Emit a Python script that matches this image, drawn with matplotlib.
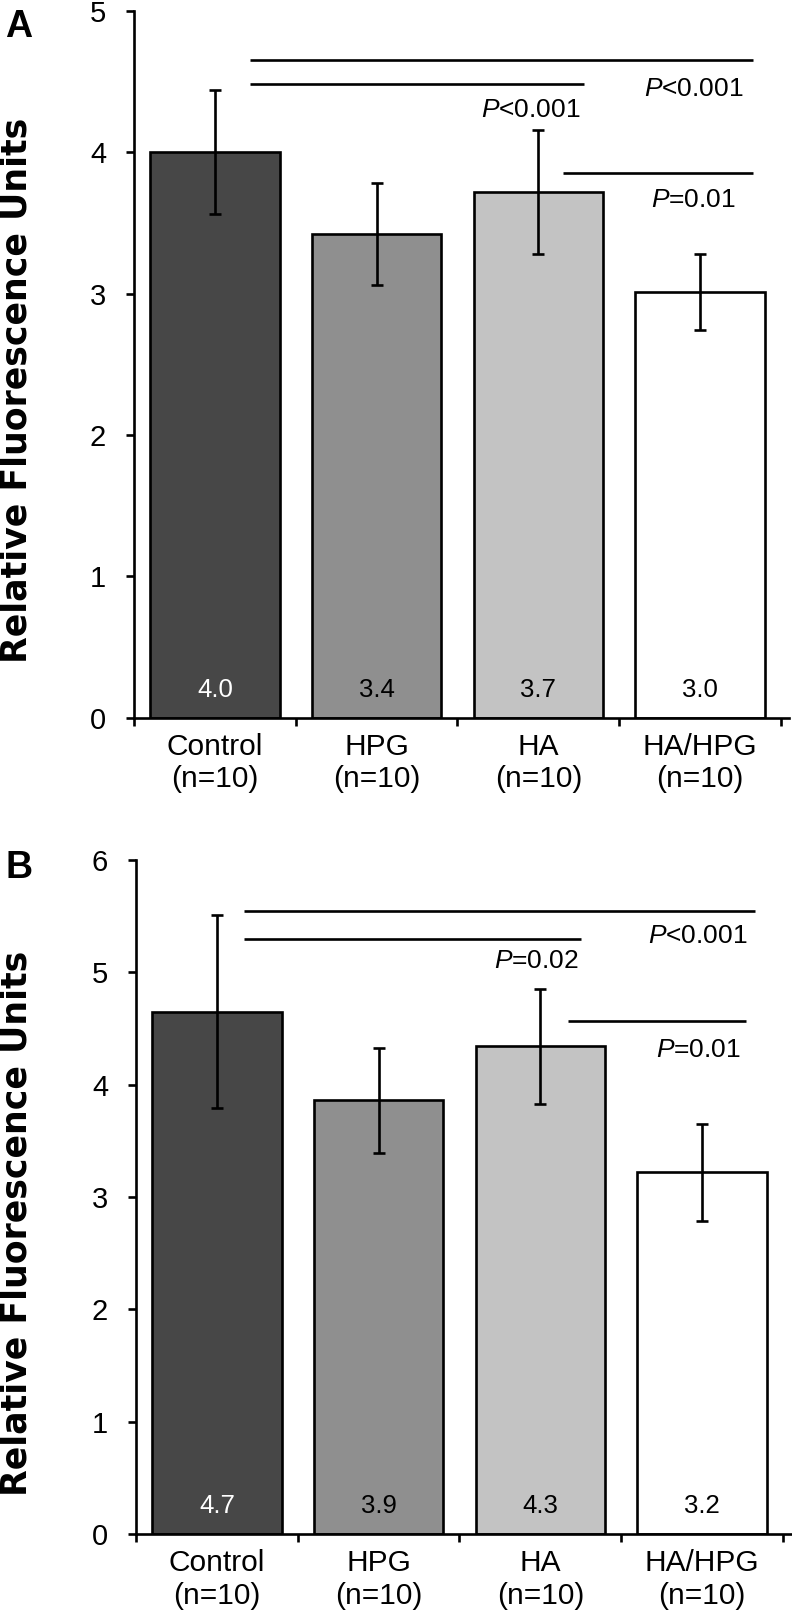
import matplotlib
matplotlib.use('Agg')
import matplotlib.pyplot as plt

# data
groups = ['Control', 'HPG', 'HA', 'HA/HPG']
n_per_group = [10, 10, 10, 10]
bar_colors = ['#474747', '#8f8f8f', '#c3c3c3', '#ffffff']
label_colors = ['white', 'black', 'black', 'black']

means_a = [4.0, 3.42, 3.72, 3.01]
err_a = [0.44, 0.36, 0.44, 0.27]
labels_a = ['4.0', '3.4', '3.7', '3.0']

means_b = [4.65, 3.86, 4.34, 3.22]
err_b = [0.86, 0.47, 0.51, 0.43]
labels_b = ['4.7', '3.9', '4.3', '3.2']

# significance bars: (x_start, x_end, y_line, p_text, text_x_right, text_y)
sig_a = [(0.22, 3.33, 4.65, '<0.001', 3.27, 4.45),
         (0.22, 2.28, 4.48, '<0.001', 2.26, 4.30),
         (2.15, 3.33, 3.85, '=0.01', 3.22, 3.66)]
sig_b = [(0.17, 3.33, 5.55, '<0.001', 3.28, 5.32),
         (0.17, 2.25, 5.30, '=0.02', 2.24, 5.10),
         (2.17, 3.27, 4.57, '=0.01', 3.24, 4.31)]

plt.rcParams['font.family'] = ['Liberation Sans', 'DejaVu Sans']
plt.rcParams['mathtext.fontset'] = 'custom'
plt.rcParams['mathtext.rm'] = 'Liberation Sans'
plt.rcParams['mathtext.it'] = 'Liberation Sans:italic'

LW = 1.9

fig = plt.figure(figsize=(7.92, 16.2), dpi=100)
ax_a = fig.add_axes([134 / 792, 1 - 717.5 / 1620, 655 / 792, 706.5 / 1620])
ax_b = fig.add_axes([136 / 792, 1 - 1534 / 1620, 655 / 792, 674 / 1620])


def draw_panel(ax, means, errs, labels, sigs, ymax, letter, ltr_y):
    x = list(range(len(groups)))
    ax.bar(x, means, width=0.8, color=bar_colors, edgecolor='black',
           linewidth=LW, zorder=2)
    ax.errorbar(x, means, yerr=errs, fmt='none', ecolor='black',
                elinewidth=LW, capsize=4.5, capthick=LW, zorder=3)
    for i, t in enumerate(labels):
        ax.annotate(t, (i, 0), xytext=(0, 20), textcoords='offset points',
                    ha='center', va='center', fontsize=18.5,
                    color=label_colors[i])
    for x0, x1, yl, ptxt, tx, ty in sigs:
        ax.plot([x0, x1], [yl, yl], color='black', lw=LW,
                solid_capstyle='butt', zorder=3)
        ax.text(tx, ty, r'$\mathit{P}$' + ptxt, ha='right', va='center',
                fontsize=19)

    ax.set_xlim(-0.5, 3.55)
    ax.set_ylim(0, ymax)
    ax.set_yticks(range(0, ymax + 1))
    ax.set_xticks([-0.5, 0.5, 1.5, 2.5, 3.5])
    ax.set_xticklabels([])
    ax.set_xticks(x, minor=True)
    ax.set_xticklabels(['%s\n(n=%d)' % (g, n) for g, n in zip(groups, n_per_group)],
                       minor=True, fontsize=21.5, linespacing=1.2)
    ax.tick_params(axis='x', which='minor', length=0, pad=11)
    ax.tick_params(axis='x', which='major', length=6, width=LW, direction='out')
    ax.tick_params(axis='y', length=6, width=LW, direction='out',
                   labelsize=21, pad=14)
    for s in ['top', 'right']:
        ax.spines[s].set_visible(False)
    for s in ['left', 'bottom']:
        ax.spines[s].set_linewidth(LW)
    bb = ax.get_position()
    fig.text(17 / 792, bb.y0 + bb.height / 2 - 26 / 1620,
             'Relative Fluorescence Units',
             family='DejaVu Sans', fontweight='bold', fontsize=25,
             rotation=90, ha='center', va='center')
    fig.text(5 / 792, ltr_y, letter, fontsize=27, fontweight='bold',
             ha='left', va='top')


draw_panel(ax_a, means_a, err_a, labels_a, sig_a, 5, 'A', 1 - 9 / 1620)
draw_panel(ax_b, means_b, err_b, labels_b, sig_b, 6, 'B', 1 - 850 / 1620)

fig.savefig('out.png', dpi=100)
